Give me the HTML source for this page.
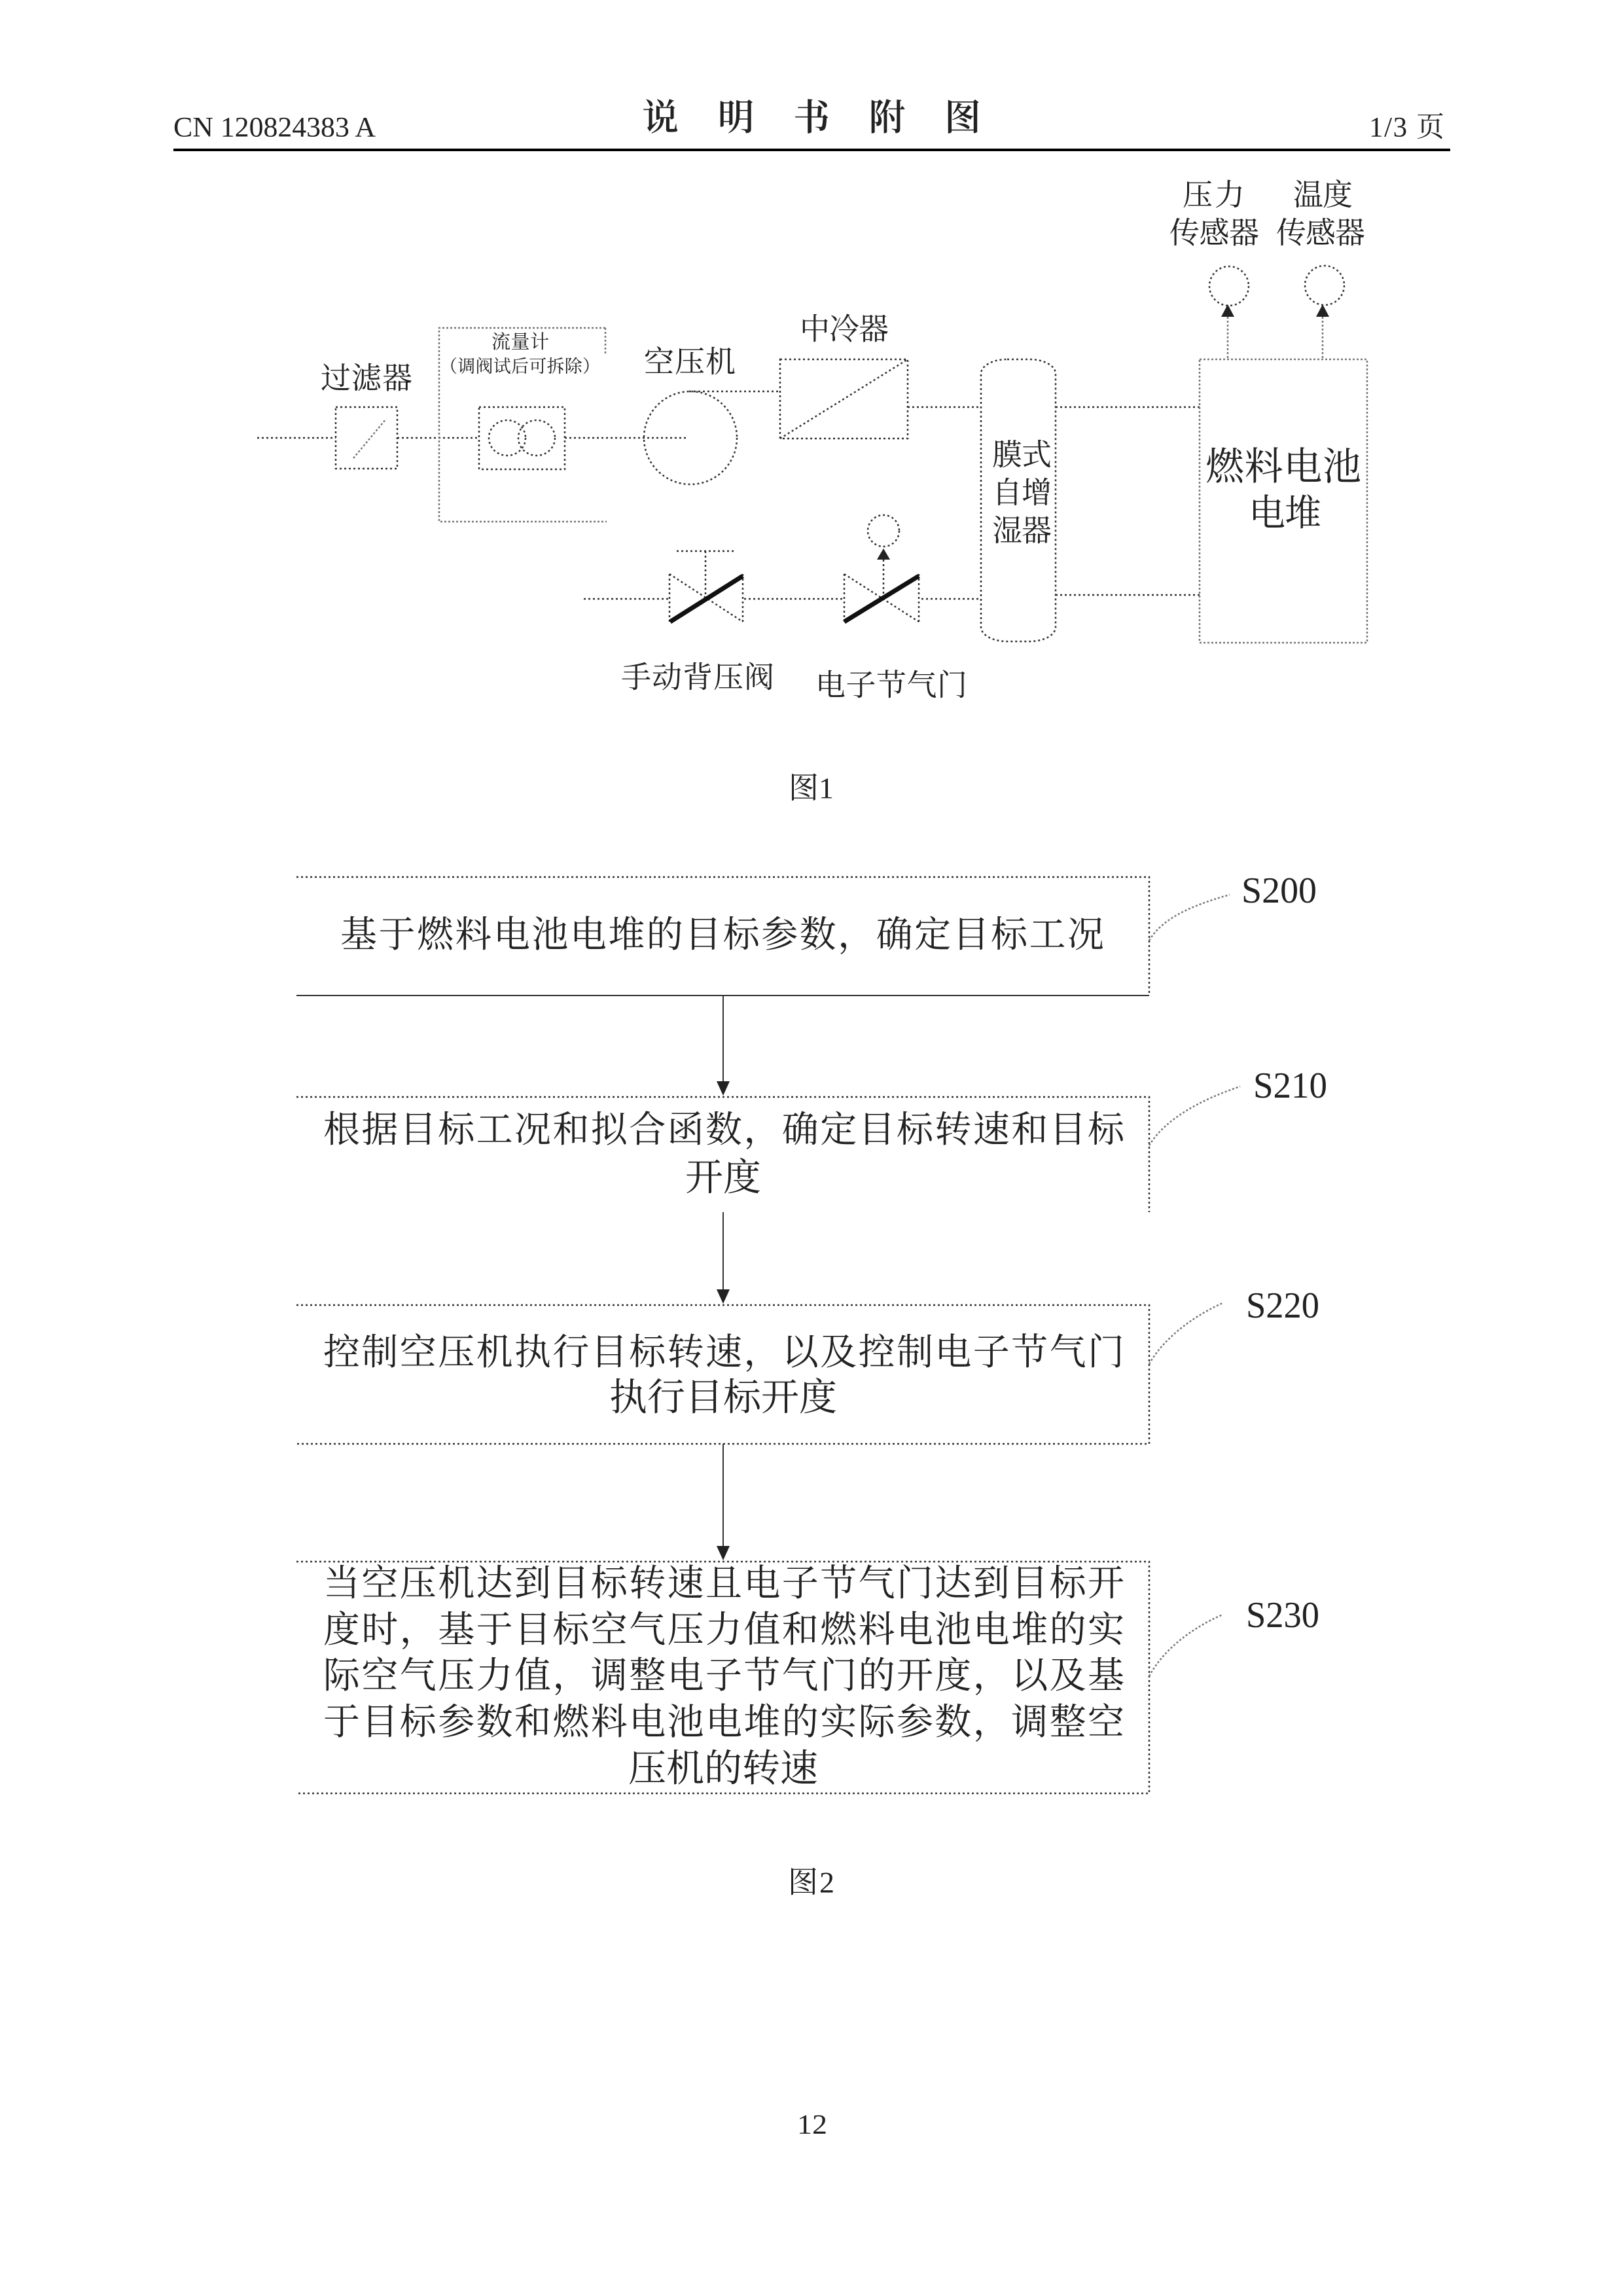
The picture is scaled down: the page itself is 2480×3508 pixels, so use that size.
<!DOCTYPE html>
<html lang="zh"><head><meta charset="utf-8"><style>
html,body{margin:0;padding:0;background:#fff;width:2480px;height:3508px;overflow:hidden}
svg{display:block}
text{font-family:"Liberation Serif","Noto Serif CJK SC",serif;fill:#222;dominant-baseline:central}
.c{text-anchor:middle}
.l{fill:none;stroke:#333;stroke-width:2.5;stroke-dasharray:3 4}
.g{fill:none;stroke:#777;stroke-width:2.5;stroke-dasharray:3 3}
.s{fill:none;stroke:#333;stroke-width:2}
.a{fill:#222}
</style></head><body>
<svg width="2480" height="3508" viewBox="0 0 2480 3508" xmlns="http://www.w3.org/2000/svg">
<text x="265" y="195" font-size="43" textLength="309" lengthAdjust="spacingAndGlyphs">CN 120824383 A</text>
<text x="981" y="181" font-size="56" textLength="518" font-weight="600">说明书附图</text>
<text x="2092" y="195" font-size="43" textLength="115">1/3 页</text>
<rect x="265" y="227" width="1951" height="4" fill="#000"/>

<!-- Figure 1 -->
<path class="l" d="M393 669H513M607 669H732M863 669H1051M1053 598H1191M1387 622H1499M1613 622H1833M1613 909H1833"/>
<path class="l" d="M892 915H1023M1137 915H1289M1408 915H1497"/>
<rect class="l" x="513" y="622" width="94" height="94"/>
<path class="g" d="M540 700L590 640"/>
<path class="g" d="M925 501H671V797H927M925 501V543"/>
<rect class="l" x="732" y="622" width="131" height="95"/>
<ellipse class="l" cx="775" cy="669" rx="28" ry="27"/>
<ellipse class="l" cx="820" cy="669" rx="28" ry="27"/>
<circle class="l" cx="1055" cy="669" r="71"/>
<rect class="l" x="1192" y="549" width="195" height="121"/>
<path class="l" d="M1192 670L1387 549"/>
<rect class="l" x="1499" y="549" width="114" height="431" rx="40" ry="22"/>
<rect class="g" x="1833" y="549" width="256" height="433"/>
<ellipse class="l" cx="1878" cy="437" rx="30" ry="30"/>
<ellipse class="l" cx="2024" cy="436" rx="30" ry="30"/>
<path class="g" d="M1876 484V549M2021 484V549"/>
<path class="a" d="M1876 465L1866 484H1886Z"/>
<path class="a" d="M2021 465L2011 484H2031Z"/>

<path class="l" d="M1023 877V950M1135 877V950M1023 877L1135 950M1034 842H1121M1078 842V912"/>
<path d="M1024 950L1135 880" stroke="#111" stroke-width="7" fill="none"/>
<path class="l" d="M1290 877V950M1404 877V950M1290 877L1404 950M1350 855V912"/>
<path d="M1290 950L1404 880" stroke="#111" stroke-width="7" fill="none"/>
<circle class="l" cx="1350" cy="811" r="24"/>
<path class="a" d="M1350 838L1340 855H1360Z"/>

<text x="490" y="578" font-size="46" textLength="140">过滤器</text>
<text x="751" y="523" font-size="29" textLength="88">流量计</text>
<text x="672" y="560" font-size="27" textLength="245">（调阀试后可拆除）</text>
<text x="984" y="553" font-size="46" textLength="140">空压机</text>
<text x="1222" y="503" font-size="46" textLength="136">中冷器</text>
<text x="1807" y="298" font-size="46" textLength="95">压力</text>
<text x="1787" y="356" font-size="46" textLength="137">传感器</text>
<text x="1976" y="298" font-size="46" textLength="91">温度</text>
<text x="1950" y="356" font-size="46" textLength="136">传感器</text>
<text x="1516" y="695" font-size="46" textLength="91">膜式</text>
<text x="1516" y="753" font-size="46" textLength="91">自增</text>
<text x="1516" y="811" font-size="46" textLength="91">湿器</text>
<text x="1842" y="713" font-size="59" textLength="238">燃料电池</text>
<text x="1908" y="785" font-size="56" textLength="111">电堆</text>
<text x="949" y="1035" font-size="46" textLength="234">手动背压阀</text>
<text x="1246" y="1047" font-size="46" textLength="232">电子节气门</text>
<text x="1205" y="1204" font-size="46" textLength="69">图1</text>

<!-- Figure 2 -->
<path class="l" d="M453 1340H1756V1521"/><path class="s" d="M453 1521H1756"/>
<path class="l" d="M453 1676H1756V1852"/>
<path class="l" d="M453 1994H1756V2206H453"/>
<path class="l" d="M453 2386H1756V2740H453"/>
<path class="s" d="M1105 1521V1655M1105 1852V1975M1105 2206V2366"/>
<path class="a" d="M1105 1674L1095 1652H1115Z"/>
<path class="a" d="M1105 1992L1095 1970H1115Z"/>
<path class="a" d="M1105 2384L1095 2362H1115Z"/>
<path class="g" d="M1756 1437C1775 1405 1815 1385 1879 1367"/>
<path class="g" d="M1756 1750C1780 1710 1835 1680 1895 1660"/>
<path class="g" d="M1756 2084C1775 2050 1815 2015 1868 1991"/>
<path class="g" d="M1756 2561C1775 2525 1815 2490 1868 2467"/>

<text x="520" y="1429" font-size="56" textLength="1167">基于燃料电池电堆的目标参数，确定目标工况</text>
<text x="494" y="1727" font-size="56" textLength="1224">根据目标工况和拟合函数，确定目标转速和目标</text>
<text x="1105" y="1799" class="c" font-size="58">开度</text>
<text x="494" y="2067" font-size="56" textLength="1224">控制空压机执行目标转速，以及控制电子节气门</text>
<text x="1105" y="2135" class="c" font-size="58">执行目标开度</text>
<text x="494" y="2420" font-size="56" textLength="1224">当空压机达到目标转速且电子节气门达到目标开</text>
<text x="494" y="2491" font-size="56" textLength="1224">度时，基于目标空气压力值和燃料电池电堆的实</text>
<text x="494" y="2561" font-size="56" textLength="1224">际空气压力值，调整电子节气门的开度，以及基</text>
<text x="494" y="2632" font-size="56" textLength="1224">于目标参数和燃料电池电堆的实际参数，调整空</text>
<text x="1105" y="2702" class="c" font-size="58">压机的转速</text>

<text x="1897" y="1361" font-size="56" textLength="115" lengthAdjust="spacingAndGlyphs">S200</text>
<text x="1915" y="1659" font-size="56" textLength="113" lengthAdjust="spacingAndGlyphs">S210</text>
<text x="1904" y="1995" font-size="56" textLength="112" lengthAdjust="spacingAndGlyphs">S220</text>
<text x="1904" y="2468" font-size="56" textLength="112" lengthAdjust="spacingAndGlyphs">S230</text>
<text x="1204" y="2876" font-size="46" textLength="71">图2</text>
<text x="1218" y="3247" font-size="42" textLength="46" lengthAdjust="spacingAndGlyphs">12</text>
</svg>
</body></html>
